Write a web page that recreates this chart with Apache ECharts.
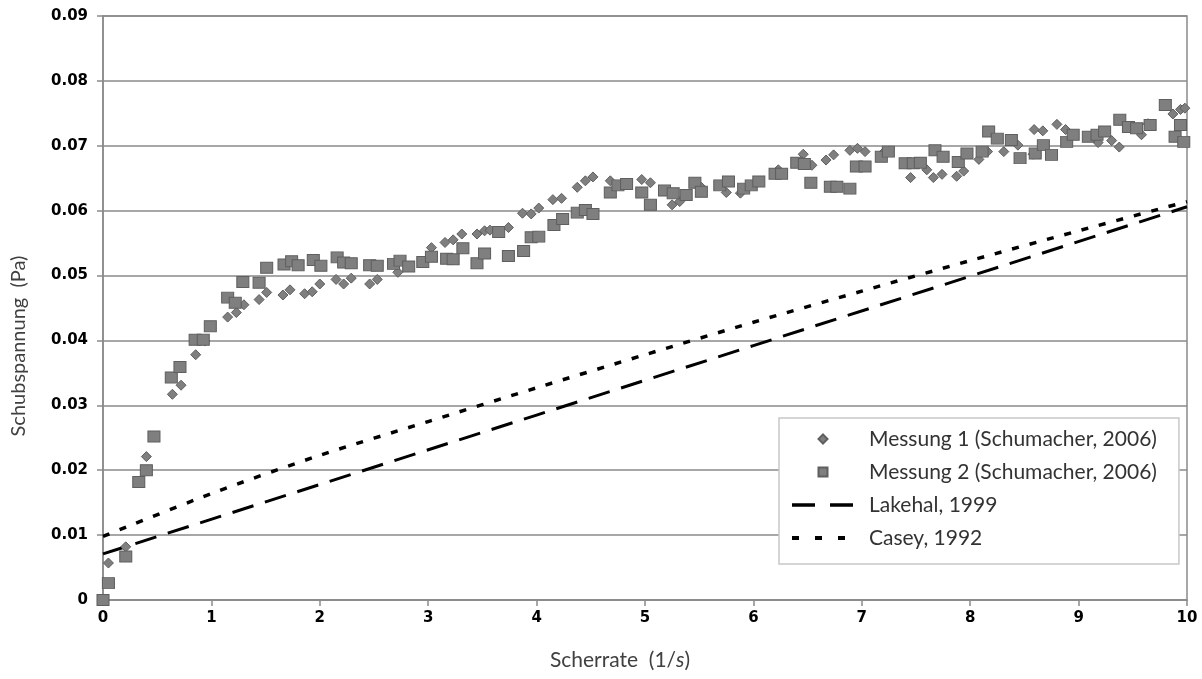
<!DOCTYPE html>
<html>
<head>
<meta charset="utf-8">
<script src="https://cdn.jsdelivr.net/npm/echarts@6/dist/echarts.min.js"></script>
<style>
html,body{margin:0;padding:0;background:#fff;}
#chart{width:1202px;height:679px;}
</style>
</head>
<body>
<div id="chart"></div>
<script>
// ---- data ----
const seriesNames = ['Messung 1 (Schumacher, 2006)', 'Messung 2 (Schumacher, 2006)', 'Lakehal, 1999', 'Casey, 1992'];
const yTicks = [0, 0.01, 0.02, 0.03, 0.04, 0.05, 0.06, 0.07, 0.08, 0.09];
const xTicks = [0, 1, 2, 3, 4, 5, 6, 7, 8, 9, 10];

const messung1 = [
  [0, 0], [0.05, 0.0057], [0.21, 0.0082], [0.40, 0.0221], [0.64, 0.0317], [0.72, 0.0331],
  [0.855, 0.0378], [0.94, 0.0399], [1.15, 0.0436], [1.23, 0.0443], [1.30, 0.0455], [1.44, 0.0463],
  [1.51, 0.0474], [1.66, 0.0470], [1.725, 0.0478], [1.86, 0.0472], [1.93, 0.0475], [2.00, 0.0487],
  [2.15, 0.0494], [2.22, 0.0487], [2.29, 0.0496], [2.46, 0.0487], [2.53, 0.0494], [2.72, 0.0505],
  [3.03, 0.0543], [3.155, 0.0551], [3.23, 0.0555], [3.31, 0.0564], [3.45, 0.0564], [3.52, 0.0569],
  [3.57, 0.0570], [3.74, 0.0574], [3.87, 0.0596], [3.95, 0.0595], [4.02, 0.0604], [4.15, 0.0617],
  [4.23, 0.0619], [4.375, 0.0636], [4.45, 0.0646], [4.52, 0.0652], [4.68, 0.0646], [4.97, 0.0648],
  [5.05, 0.0643], [5.25, 0.0609], [5.32, 0.0614], [5.52, 0.0636], [5.75, 0.0628], [5.88, 0.0627],
  [6.23, 0.0663], [6.46, 0.0687], [6.54, 0.0670], [6.67, 0.0678], [6.74, 0.0686], [6.89, 0.0693],
  [6.96, 0.0696], [7.03, 0.0691], [7.19, 0.0688], [7.25, 0.0692], [7.45, 0.0651], [7.60, 0.0663],
  [7.66, 0.0651], [7.74, 0.0656], [7.875, 0.0653], [7.94, 0.0661], [8.08, 0.0679], [8.16, 0.0691],
  [8.31, 0.0691], [8.44, 0.0701], [8.58, 0.0687], [8.59, 0.0725], [8.67, 0.0723], [8.80, 0.0733],
  [8.88, 0.0725], [9.18, 0.0705], [9.305, 0.0708], [9.375, 0.0698], [9.58, 0.0717], [9.64, 0.0734],
  [9.87, 0.0749], [9.94, 0.0756], [9.98, 0.0758]
];

const messung2 = [
  [0, 0], [0.05, 0.0026], [0.21, 0.0067], [0.33, 0.0182], [0.40, 0.0200], [0.47, 0.0252],
  [0.63, 0.0343], [0.71, 0.0359], [0.85, 0.0401], [0.925, 0.0401], [0.99, 0.0422], [1.15, 0.0466],
  [1.22, 0.0458], [1.29, 0.0490], [1.44, 0.0489], [1.51, 0.0512], [1.67, 0.0517], [1.74, 0.0522],
  [1.80, 0.0516], [1.94, 0.0524], [2.01, 0.0515], [2.16, 0.0528], [2.22, 0.0520], [2.29, 0.0519],
  [2.46, 0.0516], [2.53, 0.0515], [2.68, 0.0518], [2.74, 0.0523], [2.82, 0.0514], [2.95, 0.0521],
  [3.03, 0.0529], [3.17, 0.0526], [3.23, 0.0525], [3.32, 0.0542], [3.45, 0.0519], [3.52, 0.0534],
  [3.65, 0.0567], [3.74, 0.0530], [3.88, 0.0538], [3.95, 0.0559], [4.02, 0.0560], [4.16, 0.0578],
  [4.24, 0.0587], [4.375, 0.0597], [4.45, 0.0601], [4.52, 0.0595], [4.68, 0.0628], [4.75, 0.0639],
  [4.83, 0.0641], [4.97, 0.0628], [5.05, 0.0609], [5.18, 0.0631], [5.26, 0.0627], [5.38, 0.0624],
  [5.46, 0.0643], [5.52, 0.0629], [5.69, 0.0639], [5.77, 0.0645], [5.91, 0.0634], [5.98, 0.0639],
  [6.05, 0.0645], [6.20, 0.0657], [6.26, 0.0657], [6.40, 0.0674], [6.47, 0.0672], [6.53, 0.0643],
  [6.71, 0.0637], [6.77, 0.0637], [6.89, 0.0634], [6.95, 0.0668], [7.03, 0.0668], [7.18, 0.0683],
  [7.245, 0.0691], [7.40, 0.0673], [7.475, 0.0673], [7.54, 0.0674], [7.675, 0.0693], [7.75, 0.0683],
  [7.89, 0.0675], [7.97, 0.0688], [8.11, 0.0691], [8.17, 0.0722], [8.25, 0.0711], [8.38, 0.0709],
  [8.46, 0.0681], [8.60, 0.0688], [8.675, 0.0701], [8.75, 0.0686], [8.89, 0.0706], [8.95, 0.0717],
  [9.09, 0.0714], [9.17, 0.0717], [9.24, 0.0722], [9.38, 0.0740], [9.46, 0.0729], [9.535, 0.0727],
  [9.66, 0.0732], [9.80, 0.0763], [9.89, 0.0714], [9.94, 0.0732], [9.97, 0.0706]
];

const lakehal = [[0, 0.0071], [2, 0.0178], [4, 0.0285], [6, 0.0392], [8, 0.0499], [10, 0.0606]];
const casey = [[0, 0.0098], [1, 0.0164], [2, 0.0223], [3, 0.0275], [4, 0.0327], [5, 0.0378],
  [6, 0.0428], [7, 0.0476], [8, 0.0523], [9, 0.0569], [10, 0.0614]];

// ---- chart ----
const chart = echarts.init(document.getElementById('chart'), null, {renderer: 'canvas'});
const markerFill = '#7f7f7f';
const markerBorder = '#5f5f5f';
const tickFont = {fontFamily: 'DejaVu Sans', fontWeight: 'bold', fontSize: 15, color: '#000'};

chart.setOption({
  backgroundColor: '#fff',
  animation: false,
  grid: {left: 103, right: 15, top: 16, bottom: 79, show: true, borderColor: '#8a8a8a', borderWidth: 1.5, backgroundColor: 'transparent'},
  xAxis: {
    type: 'value', min: xTicks[0], max: xTicks[xTicks.length - 1], interval: 1,
    name: '{n|Scherrate  (1/}{i|s}{n|)}',
    nameLocation: 'middle', nameGap: 50,
    nameTextStyle: {
      padding: [0, 50, 0, 0],
      rich: {
        n: {fontFamily: 'Lato', fontSize: 21, color: '#404040'},
        i: {fontFamily: 'Lato', fontSize: 21, fontStyle: 'italic', color: '#404040'}
      }
    },
    axisLine: {show: true, lineStyle: {color: '#8a8a8a', width: 1.5}},
    axisTick: {show: true, length: 6, inside: false, lineStyle: {color: '#8a8a8a', width: 1.5}},
    axisLabel: Object.assign({margin: 11}, tickFont),
    splitLine: {show: false}
  },
  yAxis: {
    type: 'value', min: yTicks[0], max: yTicks[yTicks.length - 1], interval: 0.01,
    name: 'Schubspannung  (Pa)',
    nameLocation: 'middle', nameGap: 74,
    nameTextStyle: {fontFamily: 'Lato', fontSize: 20, color: '#404040', padding: [0, 76, 0, 0]},
    axisLine: {show: true, lineStyle: {color: '#8a8a8a', width: 1.5}},
    axisTick: {show: true, length: 6, inside: false, lineStyle: {color: '#8a8a8a', width: 1.5}},
    axisLabel: Object.assign({margin: 15, formatter: v => (v === 0 ? '0' : v.toFixed(2))}, tickFont),
    splitLine: {show: true, lineStyle: {color: '#8a8a8a', width: 1.5}}
  },
  legend: {
    left: 779, top: 418,
    orient: 'vertical',
    backgroundColor: '#fff',
    borderColor: '#c8c8c8', borderWidth: 1.5,
    padding: [10, 22, 15, 11],
    itemWidth: 62, itemHeight: 9, itemGap: 11,
    symbolKeepAspect: true,
    textStyle: {fontFamily: 'Lato', fontSize: 21, color: '#333', lineHeight: 22, padding: [0, 0, 0, 10]},
    data: [
      {name: seriesNames[0], icon: 'path://M5,0L10,5L5,10L0,5Z'},
      {name: seriesNames[1], icon: 'path://M0,0H10V10H0Z'},
      {name: seriesNames[2], lineStyle: {type: [23, 15], width: 3.5}, itemStyle: {opacity: 0}},
      {name: seriesNames[3], lineStyle: {type: [7, 16], width: 4}, itemStyle: {opacity: 0}}
    ]
  },
  series: [
    {
      name: seriesNames[2], type: 'line', data: lakehal, symbol: 'none', z: 1,
      lineStyle: {color: '#000', width: 3, type: [22, 12]}, itemStyle: {color: '#000'}
    },
    {
      name: seriesNames[3], type: 'line', data: casey, symbol: 'none', smooth: 0.3, z: 1,
      lineStyle: {color: '#000', width: 3.5, type: [7, 11]}, itemStyle: {color: '#000'}
    },
    {
      name: seriesNames[0], type: 'scatter', data: messung1, symbol: 'diamond', symbolSize: [10, 10],
      clip: false, z: 3,
      itemStyle: {color: markerFill, borderColor: markerBorder, borderWidth: 1, opacity: 1}
    },
    {
      name: seriesNames[1], type: 'scatter', data: messung2, symbol: 'rect', symbolSize: [12, 11],
      clip: false, z: 3,
      itemStyle: {color: markerFill, borderColor: markerBorder, borderWidth: 1, opacity: 1}
    }
  ]
});
</script>
</body>
</html>
